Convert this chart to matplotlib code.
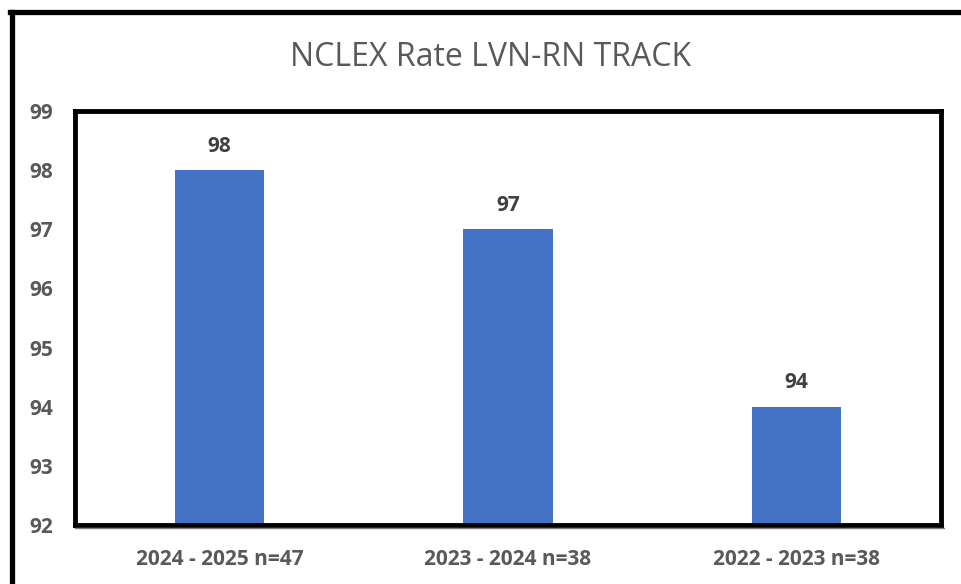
import matplotlib
matplotlib.use("Agg")
from matplotlib import pyplot as plt
from matplotlib.lines import Line2D

# chart data
categories = ["2024 - 2025 n=47", "2023 - 2024 n=38", "2022 - 2023 n=38"]
rates = [98, 97, 94]
y_ticks = [92, 93, 94, 95, 96, 97, 98, 99]

BAR_COLOR = "#4472C4"
TEXT_GREY = "#595959"

plt.rcParams['font.family'] = ['Open Sans', 'DejaVu Sans']

fig = plt.figure(figsize=(9.61, 5.84), dpi=100)
ax = fig.add_axes([75 / 961, (584 - 525) / 584, (941 - 75) / 961, (525 - 111) / 584])

x = range(len(categories))
bars = ax.bar(x, [r - y_ticks[0] for r in rates], bottom=y_ticks[0], width=0.31, color=BAR_COLOR)

for xi, r in zip(x, rates):
    ax.text(xi, r + 0.23, str(r), ha="center", va="bottom",
            fontsize=15, fontweight="bold", color="#404040")

ax.set_xlim(-0.5, len(categories) - 0.5)
ax.set_ylim(y_ticks[0], y_ticks[-1])
ax.set_yticks(y_ticks)
ax.set_xticks(list(x))
ax.set_xticklabels(categories)
ax.tick_params(axis="both", length=0, labelsize=15, labelcolor=TEXT_GREY)
ax.tick_params(axis="y", pad=16)
ax.tick_params(axis="x", pad=17)
for lbl in ax.get_xticklabels() + ax.get_yticklabels():
    lbl.set_fontweight("bold")

for side in ["left", "top", "right", "bottom"]:
    ax.spines[side].set_linewidth(3.5)
    ax.spines[side].set_color("black")

# thin shadow line under the bottom axis
fig.add_artist(Line2D([75 / 961, 944 / 961], [(584 - 528) / 584] * 2,
                      color="#7f7f7f", linewidth=1))

# outer frame (left and top edges)
fig.add_artist(Line2D([12 / 961, 12 / 961], [0, (584 - 12) / 584], color="black", linewidth=3.8))
fig.add_artist(Line2D([10 / 961, 1], [(584 - 12) / 584] * 2, color="black", linewidth=3.8))

fig.text(491 / 961, (584 - 58) / 584, "NCLEX Rate LVN-RN TRACK", ha="center", va="center",
         fontsize=23, color=TEXT_GREY)

fig.savefig("out.png", dpi=100, facecolor="white")
